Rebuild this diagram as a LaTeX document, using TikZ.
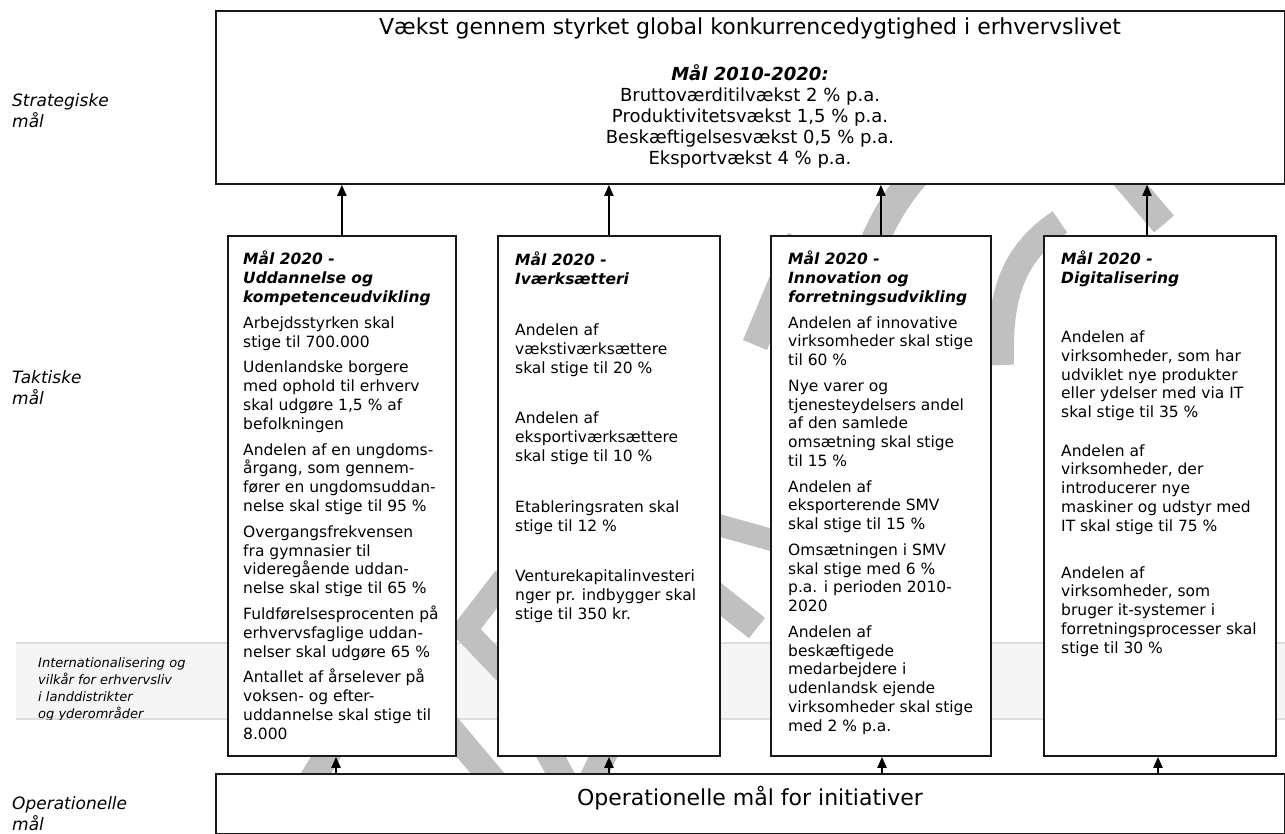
\documentclass[tikz,border=0pt]{standalone}
\usepackage{fontspec}
\setmainfont{DejaVu Sans}
\usetikzlibrary{arrows.meta}
\definecolor{wm}{RGB}{192,192,192}
\definecolor{bandfill}{RGB}{245,245,245}
\definecolor{bandline}{RGB}{222,222,222}
\definecolor{edge}{RGB}{25,25,25}
\newcommand{\mybody}[2]{\parbox[t]{#1}{\raggedright\fontsize{15.5}{18.8}\selectfont #2}}
\newcommand{\myhead}[1]{\textbf{\textit{#1}}}
\tikzset{
  box/.style={draw=edge, line width=1.8pt, fill=white, rectangle, inner sep=0, anchor=north west},
  arr/.style={draw=black, line width=2pt, -{Triangle[width=9pt,length=11pt]}},
  wmline/.style={draw=wm, line width=26pt},
  lbl/.style={anchor=base west, inner sep=0},
  txt/.style={anchor=base west, inner sep=0},
}
\begin{document}
\begin{tikzpicture}[x=1pt,y=-1pt]
\useasboundingbox (0,0) rectangle (1285,834);

% grey band
\fill[bandfill] (16,643) rectangle (1285,719);
\draw[bandline, line width=1.2pt] (16,643) -- (1285,643) (16,719) -- (1285,719);
\begin{scope}
  \clip (16,643) rectangle (1285,719);
  \node[txt] (bandtxt) at (38,667) {\parbox[t]{200pt}{\fontsize{13}{17.2}\selectfont\itshape Internationalisering og\\vilkår for erhvervsliv\\i landdistrikter\\og yderområder}};
\end{scope}

% watermark fragments
\draw[wmline] (300,800) -- (345,725);
\draw[wmline] (430,705) -- (520,812);
\draw[wmline, line width=24pt, line join=miter] (505,578) -- (465,630) -- (505,672);
\draw[wmline] (520,700) -- (580,810);
\draw[wmline] (630,700) -- (575,815);
\draw[wmline] (755,345) -- (800,238);
\draw[wmline, line width=28pt] (865,265) .. controls (880,225) and (895,195) .. (930,160);
\draw[wmline] (1001,365) .. controls (999,300) and (1010,255) .. (1060,222);
\draw[wmline, line width=22pt] (700,520) -- (790,545);
\draw[wmline] (700,583) -- (757,628);
\draw[wmline] (1112,163) -- (1164,224);

% left labels
\node[lbl] (lstrat) at (12,107) {\parbox[t]{150pt}{\fontsize{17}{21}\selectfont\itshape Strategiske\\mål}};
\node[lbl] (ltakt) at (12,383) {\parbox[t]{150pt}{\fontsize{17}{21}\selectfont\itshape Taktiske\\mål}};
\node[lbl] (lop) at (12,809) {\parbox[t]{150pt}{\fontsize{17}{21}\selectfont\itshape Operationelle\\mål}};

% boxes
\node[box, minimum width=1069pt, minimum height=173pt] (top) at (215,10) {};
\node[box, minimum width=228pt, minimum height=520pt] (b1) at (227,235) {};
\node[box, minimum width=222pt, minimum height=520pt] (b2) at (497,235) {};
\node[box, minimum width=220pt, minimum height=520pt] (b3) at (770,235) {};
\node[box, minimum width=232pt, minimum height=520pt] (b4) at (1043,235) {};
\node[box, minimum width=1069pt, minimum height=60pt] (bot) at (215,773) {};

% top box text
\node[anchor=base, inner sep=0] (title) at (750,35) {\fontsize{22}{26}\selectfont Vækst gennem styrket global konkurrencedygtighed i erhvervslivet};
\node[anchor=base, inner sep=0] (goals) at (750,81) {\parbox[t]{400pt}{\centering\fontsize{18}{21}\selectfont
  \myhead{Mål 2010-2020:}\\
  Bruttoværditilvækst 2 \% p.a.\\
  Produktivitetsvækst 1,5 \% p.a.\\
  Beskæftigelsesvækst 0,5 \% p.a.\\
  Eksportvækst 4 \% p.a.}};

% bottom box text
\node[anchor=base, inner sep=0] (optxt) at (750,805) {\fontsize{22}{26}\selectfont Operationelle mål for initiativer};

% box 1
\node[txt] (b1t) at (243,265) {\mybody{215pt}{%
\myhead{Mål 2020 -}\\
\myhead{Uddannelse og}\\
\myhead{kompetenceudvikling}\\[7pt]
Arbejdsstyrken skal\\
stige til 700.000\\[7pt]
Udenlandske borgere\\
med ophold til erhverv\\
skal udgøre 1,5 \% af\\
befolkningen\\[7pt]
Andelen af en ungdoms-\\
årgang, som gennem-\\
fører en ungdomsuddan-\\
nelse skal stige til 95 \%\\[7pt]
Overgangsfrekvensen\\
fra gymnasier til\\
videregående uddan-\\
nelse skal stige til 65 \%\\[7pt]
Fuldførelsesprocenten på\\
erhvervsfaglige uddan-\\
nelser skal udgøre 65 \%\\[7pt]
Antallet af årselever på\\
voksen- og efter-\\
uddannelse skal stige til\\
8.000}};

% box 2
\node[txt] (b2t) at (515,266) {\mybody{215pt}{%
\myhead{Mål 2020 -}\\
\myhead{Iværksætteri}\\[32pt]
Andelen af\\
vækstiværksættere\\
skal stige til 20 \%\\[32pt]
Andelen af\\
eksportiværksættere\\
skal stige til 10 \%\\[32pt]
Etableringsraten skal\\
stige til 12 \%\\[32pt]
Venturekapitalinvesteri\\
nger pr. indbygger skal\\
stige til 350 kr.}};

% box 3
\node[txt] (b3t) at (788,265) {\mybody{215pt}{%
\myhead{Mål 2020 -}\\
\myhead{Innovation og}\\
\myhead{forretningsudvikling}\\[6.8pt]
Andelen af innovative\\
virksomheder skal stige\\
til 60 \%\\[6.8pt]
Nye varer og\\
tjenesteydelsers andel\\
af den samlede\\
omsætning skal stige\\
til 15 \%\\[6.8pt]
Andelen af\\
eksporterende SMV\\
skal stige til 15 \%\\[6.8pt]
Omsætningen i SMV\\
skal stige med 6 \%\\
p.a. i perioden 2010-\\
2020\\[6.8pt]
Andelen af\\
beskæftigede\\
medarbejdere i\\
udenlandsk ejende\\
virksomheder skal stige\\
med 2 \% p.a.}};

% box 4
\node[txt] (b4t) at (1061,265) {\mybody{215pt}{%
\myhead{Mål 2020 -}\\
\myhead{Digitalisering}\\[40pt]
Andelen af\\
virksomheder, som har\\
udviklet nye produkter\\
eller ydelser med via IT\\
skal stige til 35 \%\\[19.5pt]
Andelen af\\
virksomheder, der\\
introducerer nye\\
maskiner og udstyr med\\
IT skal stige til 75 \%\\[28pt]
Andelen af\\
virksomheder, som\\
bruger it-systemer i\\
forretningsprocesser skal\\
stige til 30 \%}};

% arrows up to the strategic box
\coordinate (t4) at (1147,235);
\draw[arr] (b1.north) -- (b1.north |- top.south);
\draw[arr] (b2.north) -- (b2.north |- top.south);
\draw[arr] (b3.north) -- (b3.north |- top.south);
\draw[arr] (t4) -- (t4 |- top.south);

% arrows from the operational box
\coordinate (u1) at (336,773);
\coordinate (u2) at (609,773);
\coordinate (u3) at (882,773);
\coordinate (u4) at (1158,773);
\draw[arr] (u1) -- (u1 |- b1.south);
\draw[arr] (u2) -- (u2 |- b2.south);
\draw[arr] (u3) -- (u3 |- b3.south);
\draw[arr] (u4) -- (u4 |- b4.south);
\end{tikzpicture}
\end{document}
